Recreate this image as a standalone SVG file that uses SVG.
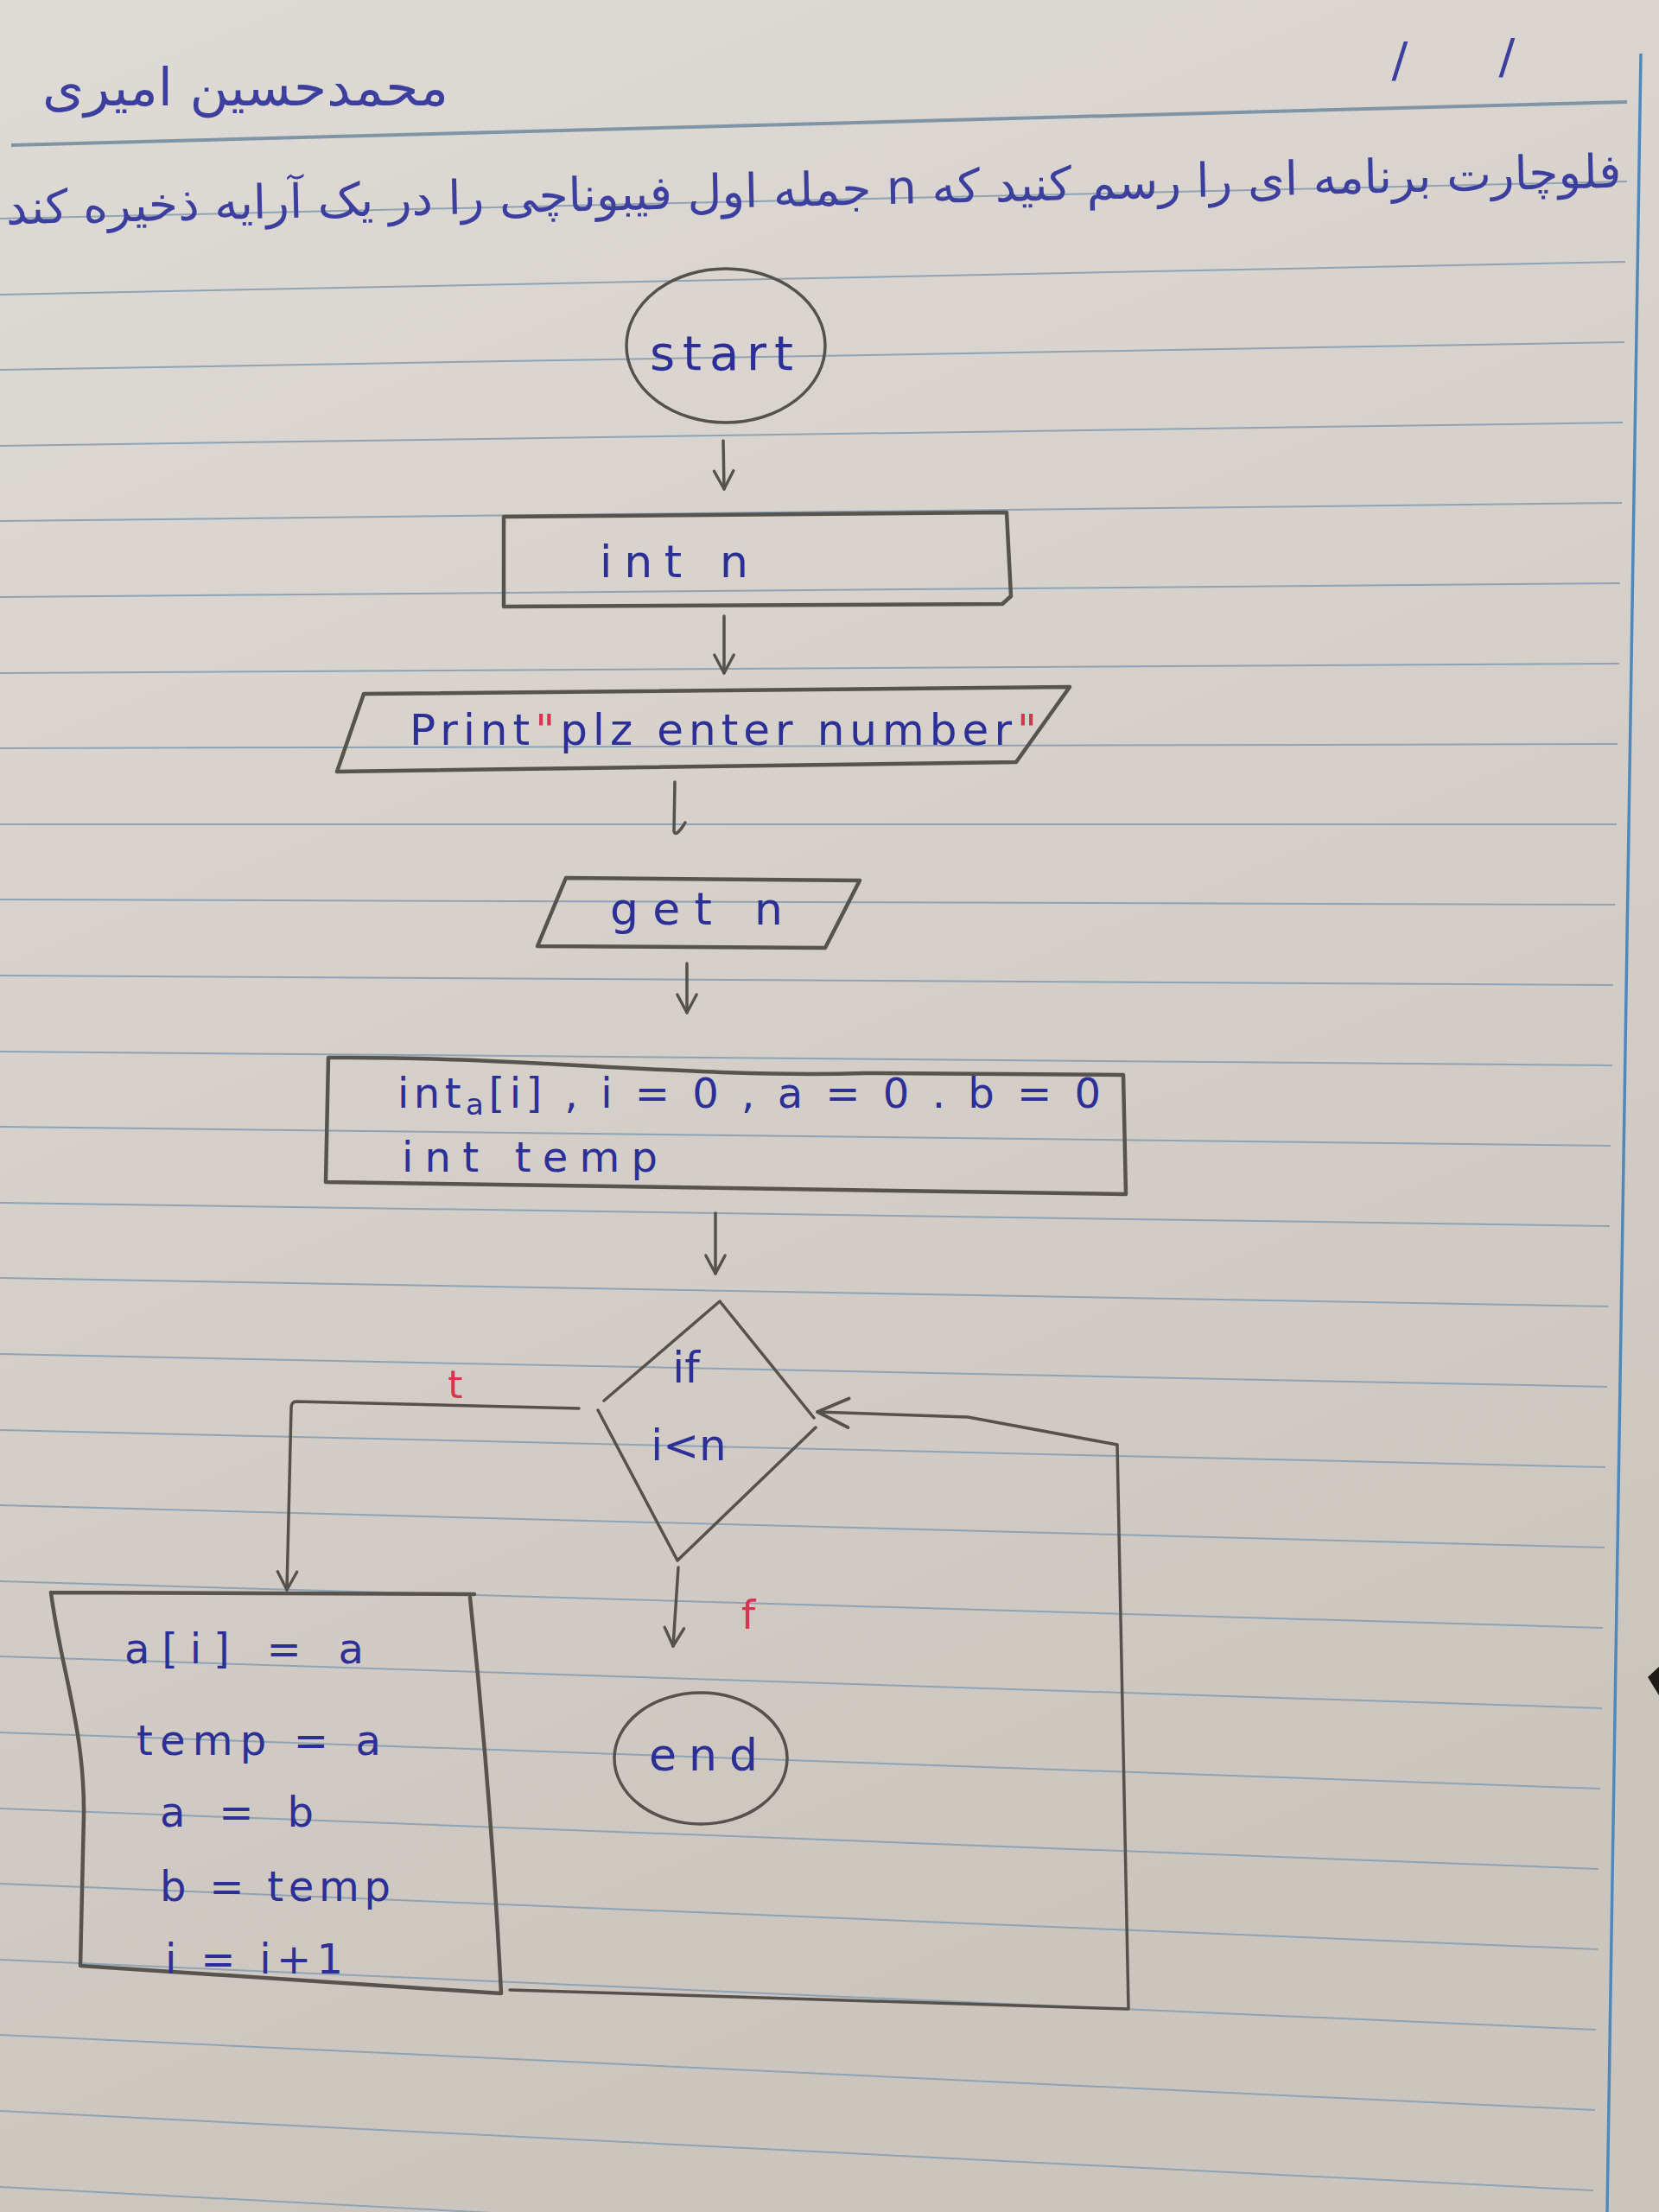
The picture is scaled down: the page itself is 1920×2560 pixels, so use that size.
<svg xmlns="http://www.w3.org/2000/svg" width="1920" height="2560" viewBox="0 0 1920 2560">
<defs>
<linearGradient id="paper" x1="0" y1="0" x2="0.3" y2="1">
<stop offset="0" stop-color="#dedad5"/>
<stop offset="0.5" stop-color="#d6d0ca"/>
<stop offset="1" stop-color="#ccc5be"/>
</linearGradient>
<marker id="ah" viewBox="0 0 20 20" refX="18" refY="10" markerWidth="28" markerHeight="28" markerUnits="userSpaceOnUse" orient="auto">
<path d="M3,2 L18,10 L3,18" fill="none" stroke="#55514b" stroke-width="2.4" stroke-linecap="round" stroke-linejoin="round"/>
</marker>
<marker id="ahL" viewBox="0 0 20 20" refX="18" refY="10" markerWidth="48" markerHeight="48" markerUnits="userSpaceOnUse" orient="auto">
<path d="M3,3 L18,10 L3,17" fill="none" stroke="#55514b" stroke-width="1.6" stroke-linecap="round" stroke-linejoin="round"/>
</marker>
</defs>
<style>
.rule{stroke:#8ea3b3;stroke-width:2;fill:none}
.shape{fill:none;stroke:#57534d;stroke-width:4.5;stroke-linecap:round;stroke-linejoin:round}
.thin{fill:none;stroke:#55514b;stroke-width:3.5;stroke-linecap:round;stroke-linejoin:round}
.conn{fill:none;stroke:#55514b;stroke-width:3.5;stroke-linecap:round;stroke-linejoin:round}
.ink{fill:#2c2f96;font-family:"DejaVu Sans","Liberation Sans",sans-serif}
.fa{fill:#3d3f9e;font-family:"DejaVu Sans","Noto Sans",sans-serif}
.red{fill:#d8344f;font-family:"DejaVu Sans","Liberation Sans",sans-serif}
</style>
<rect width="1920" height="2560" fill="url(#paper)"/>
<g id="ruling">
<line x1="13" y1="168" x2="1883" y2="118" stroke="#7f95a6" stroke-width="4"/>
<line class="rule" x1="0" y1="253" x2="1883" y2="210"/>
<line class="rule" x1="0" y1="341" x2="1881" y2="303"/>
<line class="rule" x1="0" y1="428" x2="1880" y2="396"/>
<line class="rule" x1="0" y1="516" x2="1878" y2="489"/>
<line class="rule" x1="0" y1="603" x2="1877" y2="582"/>
<line class="rule" x1="0" y1="691" x2="1875" y2="675"/>
<line class="rule" x1="0" y1="779" x2="1874" y2="768"/>
<line class="rule" x1="0" y1="866" x2="1872" y2="861"/>
<line class="rule" x1="0" y1="954" x2="1871" y2="954"/>
<line class="rule" x1="0" y1="1041" x2="1869" y2="1047"/>
<line class="rule" x1="0" y1="1129" x2="1867" y2="1140"/>
<line class="rule" x1="0" y1="1217" x2="1866" y2="1233"/>
<line class="rule" x1="0" y1="1304" x2="1864" y2="1326"/>
<line class="rule" x1="0" y1="1392" x2="1863" y2="1419"/>
<line class="rule" x1="0" y1="1479" x2="1861" y2="1512"/>
<line class="rule" x1="0" y1="1567" x2="1860" y2="1605"/>
<line class="rule" x1="0" y1="1655" x2="1858" y2="1698"/>
<line class="rule" x1="0" y1="1742" x2="1857" y2="1791"/>
<line class="rule" x1="0" y1="1830" x2="1855" y2="1884"/>
<line class="rule" x1="0" y1="1917" x2="1854" y2="1977"/>
<line class="rule" x1="0" y1="2005" x2="1852" y2="2070"/>
<line class="rule" x1="0" y1="2093" x2="1850" y2="2163"/>
<line class="rule" x1="0" y1="2180" x2="1849" y2="2256"/>
<line class="rule" x1="0" y1="2268" x2="1847" y2="2349"/>
<line class="rule" x1="0" y1="2355" x2="1846" y2="2442"/>
<line class="rule" x1="0" y1="2443" x2="1844" y2="2535"/>
<line class="rule" x1="0" y1="2531" x2="1843" y2="2628"/>
<line x1="1899" y1="62" x2="1860" y2="2560" stroke="#4f88bd" stroke-width="3.5"/>
<path d="M1907,1941 L1920,1929 L1920,1962 Z" fill="#1e1c1a"/>
</g>
<g id="header">
<text class="fa" x="284" y="122" font-size="60" text-anchor="middle" direction="rtl" textLength="470" lengthAdjust="spacingAndGlyphs">محمدحسین امیری</text>
<text class="fa" x="1620" y="88" font-size="56" text-anchor="middle" fill="#3c6fb3">/</text>
<text class="fa" x="1744" y="84" font-size="56" text-anchor="middle" fill="#3c6fb3">/</text>
<text class="fa" x="942" y="238" font-size="54" text-anchor="middle" direction="rtl" textLength="1870" lengthAdjust="spacingAndGlyphs" transform="rotate(-1.31 942 238)">فلوچارت برنامه ای را رسم کنید که n جمله اول فیبوناچی را در یک آرایه ذخیره کند</text>
</g>
<g id="start">
<ellipse class="thin" cx="840" cy="400" rx="115" ry="89"/>
<text class="ink" x="752" y="428" font-size="56" textLength="166" lengthAdjust="spacing">start</text>
</g>
<g id="int_n">
<path class="shape" d="M583,598 L1165,593 L1170,690 L1160,699 L583,702 Z"/>
<text class="ink" x="694" y="668" font-size="52" textLength="172" lengthAdjust="spacing">int n</text>
</g>
<g id="print">
<path class="shape" d="M421,803 L1238,795 L1176,882 L390,893 Z"/>
<text class="ink" x="474" y="862" font-size="50" textLength="726" lengthAdjust="spacing">Print<tspan class="red">"</tspan>plz enter number<tspan class="red">"</tspan></text>
</g>
<g id="get_n">
<path class="shape" d="M655,1016 L995,1019 L955,1097 L622,1095 Z"/>
<text class="ink" x="706" y="1070" font-size="52" textLength="200" lengthAdjust="spacing">get n</text>
</g>
<g id="init">
<path class="shape" d="M380,1224 C600,1222 800,1248 1000,1242 L1300,1244 L1303,1382 L377,1368 Z"/>
<text class="ink" x="460" y="1282" font-size="48" textLength="814" lengthAdjust="spacing">int<tspan font-size="34" dy="8">a</tspan><tspan dy="-8">[i] , i = 0 , a = 0 . b = 0</tspan></text>
<text class="ink" x="465" y="1356" font-size="48" textLength="296" lengthAdjust="spacing">int temp</text>
</g>
<g id="decision">
<path class="thin" d="M833,1506 L942,1641 M944,1652 L784,1806 L692,1632 M699,1621 L833,1506"/>
<text class="ink" x="794" y="1600" font-size="50" text-anchor="middle">if</text>
<text class="ink" x="797" y="1690" font-size="50" text-anchor="middle">i&lt;n</text>
</g>
<g id="body">
<path class="shape" d="M59,1843 L549,1845 M544,1849 C560,2000 572,2150 580,2307 L93,2275 L97,2100 C98,2000 70,1930 59,1843"/>
<text class="ink" x="144" y="1925" font-size="48" textLength="277" lengthAdjust="spacing">a[i] = a</text>
<text class="ink" x="158" y="2031" font-size="48" textLength="283" lengthAdjust="spacing">temp = a</text>
<text class="ink" x="185" y="2114" font-size="48" textLength="178" lengthAdjust="spacing">a = b</text>
<text class="ink" x="185" y="2200" font-size="48" textLength="267" lengthAdjust="spacing">b = temp</text>
<text class="ink" x="191" y="2284" font-size="48" textLength="206" lengthAdjust="spacing">i = i+1</text>
</g>
<g id="end">
<ellipse class="thin" cx="811" cy="2035" rx="100" ry="76"/>
<text class="ink" x="751" y="2049" font-size="52" textLength="126" lengthAdjust="spacing">end</text>
</g>
<g id="connectors">
<path class="conn" d="M837,510 L838,566" marker-end="url(#ah)"/>
<path class="conn" d="M838,713 L838,779" marker-end="url(#ah)"/>
<path class="conn" d="M781,905 L780,962 Q782,970 793,952"/>
<path class="conn" d="M795,1115 L795,1172" marker-end="url(#ah)"/>
<path class="conn" d="M828,1404 L828,1474" marker-end="url(#ah)"/>
<path class="conn" d="M670,1630 L343,1622 Q337,1622 337,1630 L332,1840" marker-end="url(#ah)"/>
<text class="red" x="527" y="1618" font-size="44" text-anchor="middle">t</text>
<path class="conn" d="M785,1814 L779,1905" marker-end="url(#ah)"/>
<text class="red" x="866" y="1885" font-size="46" text-anchor="middle">f</text>
<path class="conn" d="M590,2303 L1306,2325 L1293,1672 L1120,1640 L946,1634" marker-end="url(#ahL)"/>
</g>
</svg>
